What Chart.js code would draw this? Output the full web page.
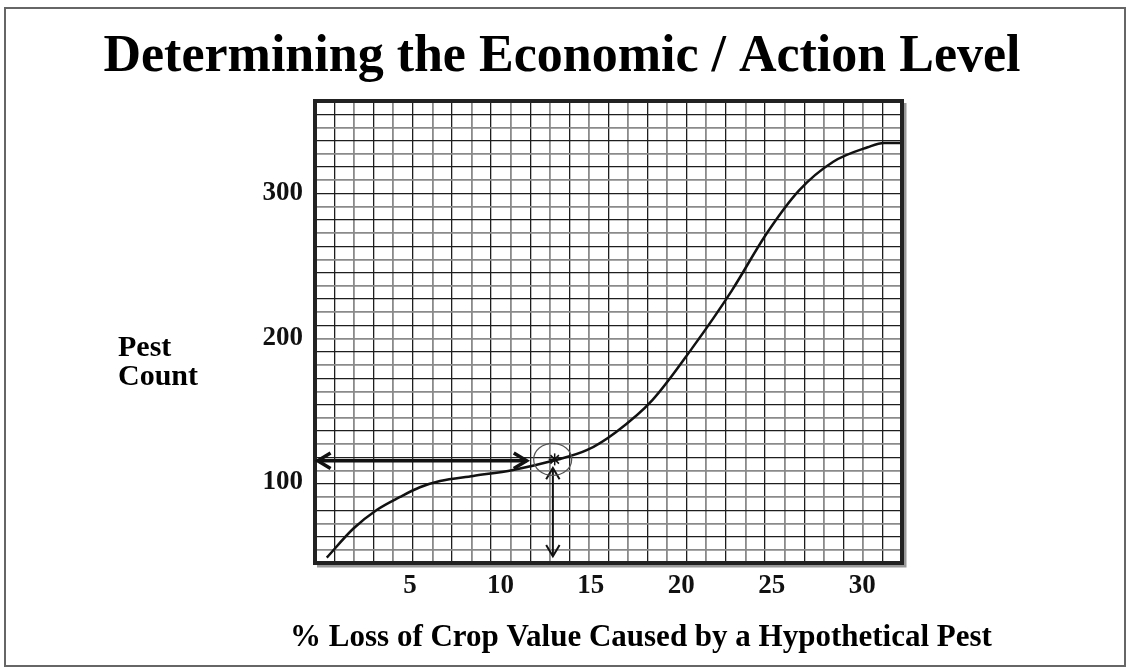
<!DOCTYPE html>
<html lang="en">
<head>
  <meta charset="UTF-8">
  <title>Determining the Economic / Action Level</title>
  <script src="https://cdn.jsdelivr.net/npm/chart.js"></script>
  <style>
    body { margin: 0; background: #fff; }
    canvas { display: block; }
  </style>
</head>
<body>
  <canvas id="levelChart" width="1130" height="669"></canvas>
  <script>
    // axis labels
    const xTicks = [5, 10, 15, 20, 25, 30];
    const yTicks = [100, 200, 300];

    // the curve
    const lossPct   = [0.4, 1.86, 3.16, 4.45, 5.55, 6.66, 8.5, 10.7, 12.9, 14.8, 16.4, 18.4, 20.6, 22.8, 24.7, 26.5, 28.4, 30.3, 31.2, 32.2];
    const pestCount = [48, 68, 81, 90, 96.7, 101, 104.5, 108.7, 115, 122.5, 135, 157, 193, 233, 272, 302, 322, 332, 335, 335];

    // action level marker and the two arrows
    const actionLoss = 13.0;
    const actionCount = 116;
    const hArrowLoss = [-0.1, 11.45];
    const hArrowCount = 115;
    const vArrowLoss = 12.9;
    const vArrowCount = [110, 49];

    function drawArrow(ctx, x1, y1, x2, y2, head) {
      ctx.beginPath();
      ctx.moveTo(x1, y1);
      ctx.lineTo(x2, y2);
      ctx.stroke();
      [[x1, y1, x2, y2], [x2, y2, x1, y1]].forEach(function (p) {
        const a = Math.atan2(p[1] - p[3], p[0] - p[2]);
        ctx.beginPath();
        ctx.moveTo(p[0] + head * Math.cos(a + 2.6), p[1] + head * Math.sin(a + 2.6));
        ctx.lineTo(p[0], p[1]);
        ctx.lineTo(p[0] + head * Math.cos(a - 2.6), p[1] + head * Math.sin(a - 2.6));
        ctx.stroke();
      });
    }

    const slideDecor = {
      id: 'slideDecor',
      beforeDraw(chart) {
        const ctx = chart.ctx;
        ctx.save();
        ctx.fillStyle = '#fff';
        ctx.fillRect(0, 0, chart.width, chart.height);
        ctx.strokeStyle = '#666';
        ctx.lineWidth = 2;
        ctx.strokeRect(5, 8, 1120, 658);
        ctx.restore();
      },
      afterDatasetsDraw(chart) {
        const ctx = chart.ctx;
        const a = chart.chartArea;
        const sx = chart.scales.x, sy = chart.scales.y;
        ctx.save();

        // plot frame with a little shadow
        ctx.strokeStyle = '#999';
        ctx.lineWidth = 3;
        ctx.beginPath();
        ctx.moveTo(a.right + 3, a.top + 2);
        ctx.lineTo(a.right + 3, a.bottom + 3);
        ctx.lineTo(a.left + 2, a.bottom + 3);
        ctx.stroke();
        ctx.strokeStyle = '#222';
        ctx.lineWidth = 4;
        ctx.strokeRect(a.left, a.top, a.right - a.left, a.bottom - a.top);

        // arrows
        ctx.strokeStyle = '#111';
        ctx.lineWidth = 3.5;
        const hy = sy.getPixelForValue(hArrowCount);
        drawArrow(ctx, sx.getPixelForValue(hArrowLoss[0]), hy, sx.getPixelForValue(hArrowLoss[1]), hy, 15);
        ctx.lineWidth = 2;
        const vx = sx.getPixelForValue(vArrowLoss);
        drawArrow(ctx, vx, sy.getPixelForValue(vArrowCount[0]), vx, sy.getPixelForValue(vArrowCount[1]), 13);

        // circled asterisk
        const cx = sx.getPixelForValue(actionLoss), cy = sy.getPixelForValue(actionCount);
        ctx.strokeStyle = '#555';
        ctx.lineWidth = 1.2;
        ctx.beginPath();
        ctx.ellipse(cx - 2, cy, 19, 16, 0, 0, Math.PI * 2);
        ctx.stroke();
        ctx.strokeStyle = '#111';
        ctx.lineWidth = 1.5;
        for (let i = 0; i < 4; i++) {
          const t = i * Math.PI / 4;
          ctx.beginPath();
          ctx.moveTo(cx - 6 * Math.cos(t), cy - 6 * Math.sin(t));
          ctx.lineTo(cx + 6 * Math.cos(t), cy + 6 * Math.sin(t));
          ctx.stroke();
        }

        // slide texts
        ctx.fillStyle = '#000';
        ctx.textBaseline = 'alphabetic';
        ctx.textAlign = 'center';
        ctx.font = 'bold 52px "Liberation Serif"';
        ctx.fillText('Determining the Economic / Action Level', 562, 71);
        ctx.font = 'bold 31px "Liberation Serif"';
        ctx.fillText('% Loss of Crop Value Caused by a Hypothetical Pest', 641, 646);
        ctx.textAlign = 'left';
        ctx.font = 'bold 30px "Liberation Serif"';
        ctx.fillText('Pest', 118, 356);
        ctx.fillText('Count', 118, 385);
        ctx.restore();
      }
    };

    const tickFont = { family: 'Liberation Serif', size: 27, weight: 'bold' };

    const ctx = document.getElementById('levelChart').getContext('2d');
    const levelChart = new Chart(ctx, {
      type: 'line',
      data: {
        datasets: [{
          label: 'Pest count',
          data: lossPct.map((v, i) => ({ x: v, y: pestCount[i] })),
          borderColor: '#111',
          borderWidth: 2.5,
          pointRadius: 0,
          cubicInterpolationMode: 'monotone',
          fill: false
        }]
      },
      options: {
        responsive: false,
        animation: false,
        layout: { padding: { top: 101, left: 255, right: 228, bottom: 66 } },
        plugins: {
          legend: { display: false },
          tooltip: { enabled: false }
        },
        scales: {
          x: {
            type: 'linear',
            min: -0.25,
            max: 32.2,
            afterBuildTicks: axis => { axis.ticks = xTicks.map(v => ({ value: v })); },
            afterFit: axis => { axis.height = 40; },
            grid: { display: false, drawTicks: false },
            border: { display: false },
            ticks: { font: tickFont, color: '#111', padding: 7, maxRotation: 0 }
          },
          y: {
            min: 44.3,
            max: 364,
            afterBuildTicks: axis => { axis.ticks = yTicks.map(v => ({ value: v })); },
            afterFit: axis => { axis.width = 60; },
            grid: { display: false, drawTicks: false },
            border: { display: false },
            ticks: { font: tickFont, color: '#111', padding: 12 }
          },
          xg: {
            type: 'linear',
            position: 'top',
            min: 0,
            max: 30,
            afterFit: axis => { axis.height = 0; },
            ticks: { display: false, stepSize: 1 },
            border: { display: false },
            grid: {
              drawTicks: false,
              color: c => c.index % 2 ? '#1e1e1e' : '#8a8a8a',
              lineWidth: c => c.index % 2 ? 1.3 : 1.8
            }
          },
          yg: {
            type: 'linear',
            position: 'right',
            min: 0,
            max: 35,
            afterFit: axis => { axis.width = 0; },
            ticks: { display: false, stepSize: 1 },
            border: { display: false },
            grid: {
              drawTicks: false,
              color: c => c.index % 2 ? '#8a8a8a' : '#1e1e1e',
              lineWidth: c => c.index % 2 ? 1.8 : 1.3
            }
          }
        }
      },
      plugins: [slideDecor]
    });
  </script>
</body>
</html>
